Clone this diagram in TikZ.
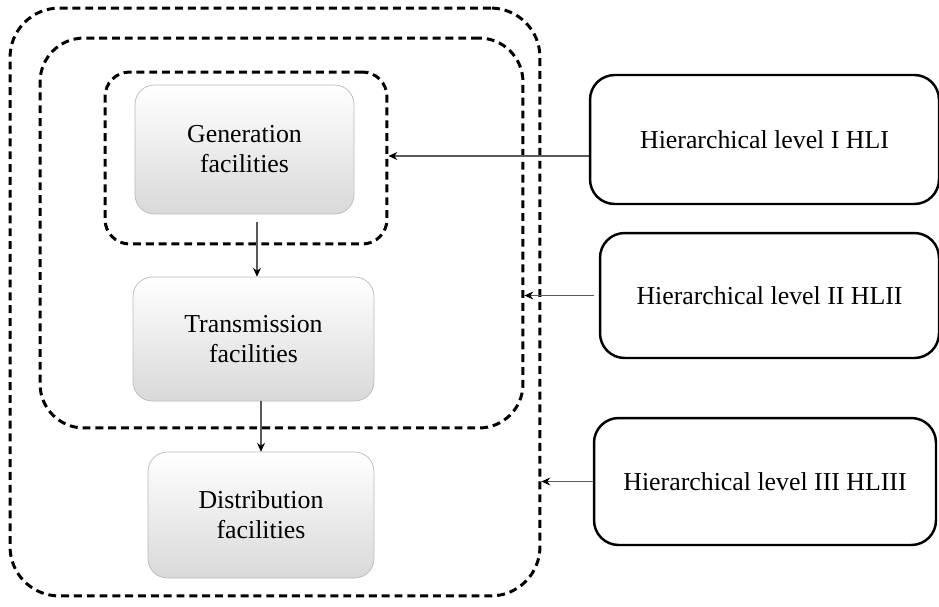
\documentclass[tikz,border=0pt]{standalone}
\usepackage{fontspec}
\setmainfont{Liberation Serif}
\usetikzlibrary{arrows.meta,positioning}
\begin{document}
\begin{tikzpicture}[x=0.02cm,y=-0.02cm,line join=round,font=\fontsize{14.7}{17}\selectfont,>={Stealth[length=5pt,width=4.5pt,color=black]},
	facility/.style={draw=gray!55,rounded corners=11pt,top color=white,bottom color=gray!30,align=center,inner sep=0pt},
	levelbox/.style={draw=black,line width=1.4pt,rounded corners=14pt,align=center,inner sep=0pt},
	frame/.style={draw=black,line width=1.7pt,dash pattern=on 4.5pt off 2.8pt,inner sep=0pt},
	link/.style={->,draw=gray!70!black,line width=0.6pt}]
	\useasboundingbox (0,0) rectangle (939,606);
	% dashed hierarchy frames
	\node[frame,rounded corners=28pt,minimum width=10.6cm,minimum height=11.76cm] (outer) at (275,302) {};
	\node[frame,rounded corners=25pt,minimum width=9.66cm,minimum height=7.8cm] (middle) at (281.5,233) {};
	\node[frame,rounded corners=14pt,minimum width=5.64cm,minimum height=3.44cm] (inner) at (246,158) {};
	% facilities
	\node[facility,minimum width=4.38cm,minimum height=2.58cm] (gen) at (244.5,149.5) {Generation\\facilities};
	\node[facility,minimum width=4.82cm,minimum height=2.48cm] (trans) at (253.5,339) {Transmission\\facilities};
	\node[facility,minimum width=4.52cm,minimum height=2.52cm] (dist) at (261,515) {Distribution\\facilities};
	\draw[link] ([xshift=0.25cm,yshift=-0.16cm]gen.south) coordinate (g) -- (g |- trans.north);
	\draw[link] (trans.south -| dist.north) -- (dist.north);
	% hierarchical levels
	\node[levelbox,minimum width=6.98cm,minimum height=2.58cm] (hlone) at (764.5,139.5) {Hierarchical level I HLI};
	\node[levelbox,minimum width=6.78cm,minimum height=2.5cm] (hltwo) at (769.5,295.5) {Hierarchical level II HLII};
	\node[levelbox,minimum width=6.84cm,minimum height=2.54cm] (hlthree) at (765,481.5) {Hierarchical level III HLIII};
	\draw[link] ([yshift=-0.33cm]hlone.west) coordinate (h) -- (h -| inner.east);
	\draw[link] ([xshift=-0.1cm]hltwo.west) -- (hltwo.west -| middle.east);
	\draw[link] (hlthree.west) -- (hlthree.west -| outer.east);
\end{tikzpicture}
\end{document}
